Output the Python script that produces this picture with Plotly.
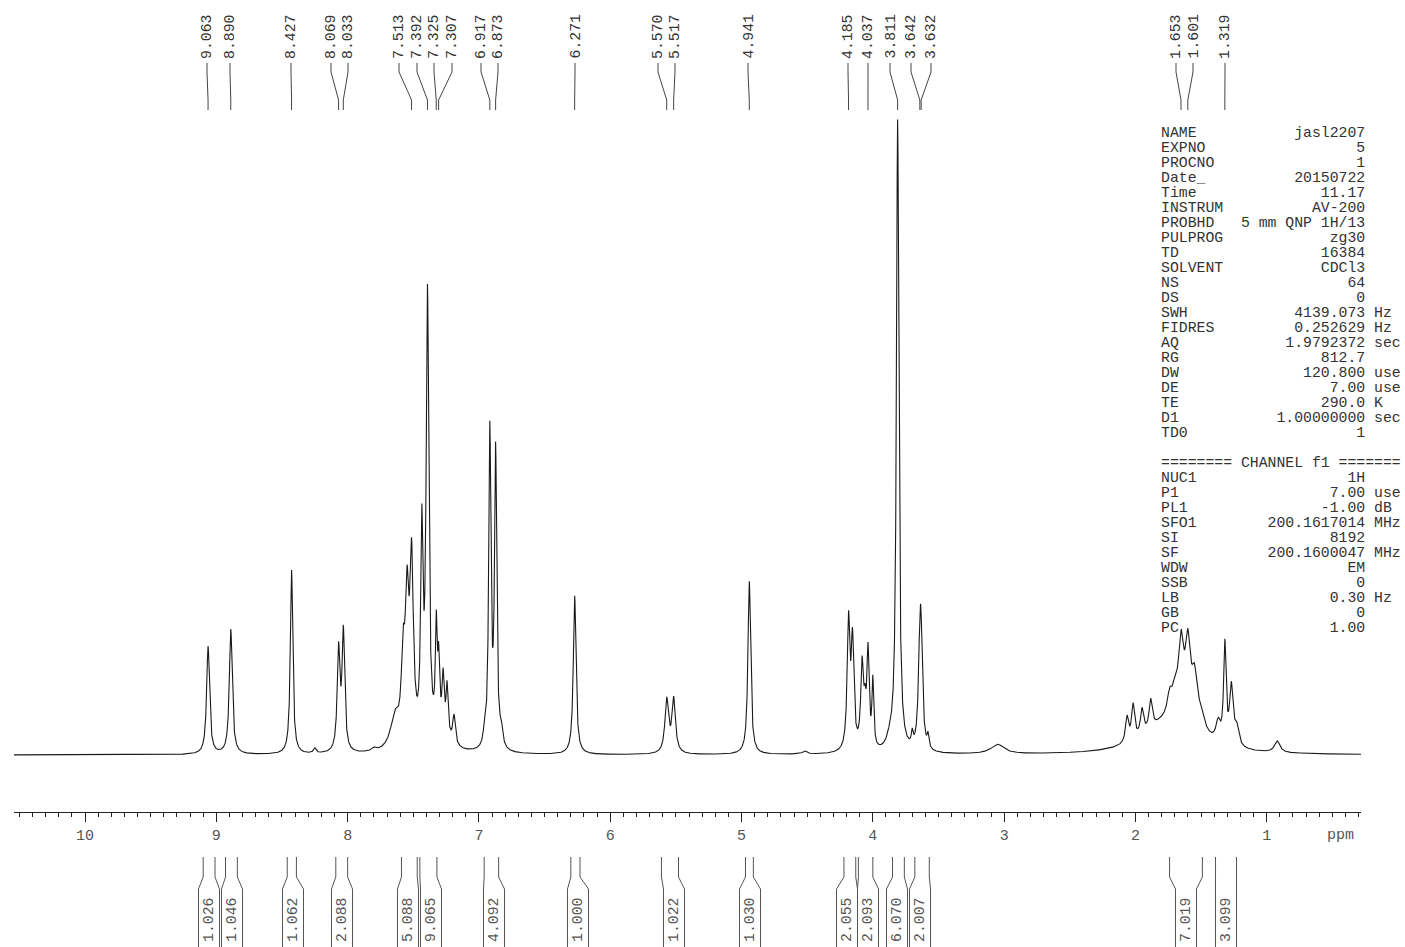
import numpy as np
import plotly.graph_objects as go

# ---------------- data ----------------
# Lorentzian peak list: position (ppm), height (intensity units), half width (ppm)
peak_ppm = [9.063, 8.890, 8.427, 8.25, 8.069, 8.033, 7.80,
            7.64, 7.578, 7.548, 7.513,
            7.435, 7.392, 7.325, 7.307, 7.273, 7.243, 7.19, 7.28,
            6.96, 6.917, 6.873, 6.83,
            6.271, 5.570, 5.517, 4.941, 4.52,
            4.185, 4.155, 4.082, 4.06, 4.037, 4.000, 3.87,
            3.811, 3.70, 3.642, 3.632, 3.58, 3.05,
            2.064, 2.018, 1.950, 1.884, 1.74, 1.70, 1.653, 1.601, 1.55, 1.50,
            1.37, 1.319, 1.27, 1.23, 1.80, 1.62, 0.92]
peak_height = [17.0, 19.7, 29.0, 0.8, 15.8, 18.7, 0.5,
               5.0, 12.0, 21.0, 28.0,
               32.0, 70.5, 16.0, 10.0, 8.0, 7.5, 4.5, 3.0,
               1.5, 50.0, 46.5, 2.5,
               25.0, 8.4, 8.5, 27.3, 0.5,
               20.0, 16.6, 13.0, 5.0, 15.0, 10.5, 1.5,
               99.5, 2.0, 13.3, 13.3, 2.0, 1.5,
               4.0, 5.5, 4.0, 4.5, 3.0, 3.0, 10.0, 10.0, 6.5, 2.0,
               3.0, 15.5, 9.0, 3.0, 3.5, 5.0, 1.8]
peak_hwhm = [0.013, 0.013, 0.011, 0.012, 0.012, 0.012, 0.02,
             0.04, 0.015, 0.016, 0.016,
             0.010, 0.012, 0.008, 0.008, 0.009, 0.009, 0.012, 0.06,
             0.01, 0.010, 0.010, 0.012,
             0.012, 0.016, 0.016, 0.012, 0.02,
             0.012, 0.012, 0.012, 0.010, 0.010, 0.008, 0.03,
             0.011, 0.008, 0.013, 0.013, 0.008, 0.06,
             0.014, 0.014, 0.014, 0.014, 0.02, 0.025, 0.022, 0.022, 0.025, 0.03,
             0.02, 0.011, 0.015, 0.02, 0.2, 0.12, 0.025]

# picked peak labels (ppm)
label_values = [9.063, 8.890, 8.427, 8.069, 8.033, 7.513, 7.392, 7.325, 7.307,
                6.917, 6.873, 6.271, 5.570, 5.517, 4.941, 4.185, 4.037,
                3.811, 3.642, 3.632, 1.653, 1.601, 1.319]

# integrals: region start / end (ppm) and values
integral_start = [9.10, 8.93, 8.46, 8.09, 7.59, 7.45, 6.96, 6.30, 5.61, 4.97,
                  4.22, 4.11, 3.85, 3.68, 1.74, 1.39]
integral_end = [9.01, 8.84, 8.39, 8.00, 7.47, 7.32, 6.85, 6.23, 5.48, 4.91,
                4.13, 4.00, 3.76, 3.57, 1.49, 1.23]
integral_values = ["1.026", "1.046", "1.062", "2.088", "5.088", "9.065", "4.092",
                   "1.000", "1.022", "1.030", "2.055", "2.093", "6.070", "2.007",
                   "7.019", "3.099"]

axis_ticks = [1, 2, 3, 4, 5, 6, 7, 8, 9, 10]

param_names = ["NAME", "EXPNO", "PROCNO", "Date_", "Time", "INSTRUM", "PROBHD",
               "PULPROG", "TD", "SOLVENT", "NS", "DS", "SWH", "FIDRES", "AQ",
               "RG", "DW", "DE", "TE", "D1", "TD0"]
param_values = ["jasl2207", "5", "1", "20150722", "11.17", "AV-200",
                "5 mm QNP 1H/13", "zg30", "16384", "CDCl3", "64", "0",
                "4139.073", "0.252629", "1.9792372", "812.7", "120.800",
                "7.00", "290.0", "1.00000000", "1"]
param_units = ["", "", "", "", "", "", "", "", "", "", "", "", "Hz", "Hz", "sec",
               "", "use", "use", "K", "sec", ""]
chan_names = ["NUC1", "P1", "PL1", "SFO1", "SI", "SF", "WDW", "SSB", "LB", "GB", "PC"]
chan_values = ["1H", "7.00", "-1.00", "200.1617014", "8192", "200.1600047",
               "EM", "0", "0.30", "0", "1.00"]
chan_units = ["", "use", "dB", "MHz", "", "MHz", "", "", "Hz", "", ""]

# ---------------- layout helpers ----------------
W, H = 1405, 947
ML, MR, MT, MB = 14, 44, 0, 135
PLOT_H = H - MT - MB
X_RANGE = [10.541, 0.282]
Y_RANGE = [-8.976, 118.9]
FONT = "Liberation Mono, Courier New, monospace"
TXT = "#333333"


def py(pix):
    """pixel row -> paper y"""
    return (H - MB - pix) / PLOT_H


def px2ppm(pix):
    return X_RANGE[0] - (pix - ML) * (X_RANGE[0] - X_RANGE[1]) / (W - ML - MR)


# label x positions (spread like the reference), in pixel columns -> ppm
label_cols = [207, 230, 291, 331, 348, 399, 417, 434, 452, 481, 498, 575, 658, 675,
              748, 848, 868, 890, 911, 931, 1176, 1193, 1225]
box_cols = [209, 232, 293, 342, 408, 431, 494, 578, 674, 750, 847, 868, 897, 920,
            1186, 1226]
BOX_HALF = 10.5 * (X_RANGE[0] - X_RANGE[1]) / (W - ML - MR)

# ---------------- spectrum ----------------
ppm = np.linspace(X_RANGE[0], X_RANGE[1], 14000)
inten = np.zeros_like(ppm)
for p0, h0, w0 in zip(peak_ppm, peak_height, peak_hwhm):
    inten += h0 / (1.0 + ((ppm - p0) / w0) ** 2)

fig = go.Figure()
fig.add_trace(go.Scatter(x=ppm, y=inten, mode="lines",
                         line=dict(color="#1a1a1a", width=1.1),
                         hoverinfo="skip", showlegend=False))

shapes = []
annotations = []

# peak labels on top
for val, col in zip(label_values, label_cols):
    lx = px2ppm(col)
    annotations.append(dict(x=lx, xref="x", y=py(61), yref="paper",
                            text=f"{val:.3f}", textangle=-90, showarrow=False,
                            xanchor="center", yanchor="bottom",
                            font=dict(family=FONT, size=14.8, color=TXT)))
    path = (f"M {lx},{py(63)} L {lx},{py(72)} L {val},{py(100)} "
            f"L {val},{py(110)}")
    shapes.append(dict(type="path", path=path, xref="x", yref="paper",
                       line=dict(color="#444444", width=1)))

# integrals below the axis
for s, e, v, col in zip(integral_start, integral_end, integral_values, box_cols):
    c = px2ppm(col)
    bl, br = c + BOX_HALF, c - BOX_HALF
    for edge, bedge in ((s, bl), (e, br)):
        path = (f"M {edge},{py(857)} L {edge},{py(877)} L {bedge},{py(889)} "
                f"L {bedge},{py(960)}")
        shapes.append(dict(type="path", path=path, xref="x", yref="paper",
                           line=dict(color="#555555", width=1)))
    annotations.append(dict(x=c, xref="x", y=py(920), yref="paper", text=v,
                            textangle=-90, showarrow=False, xanchor="center",
                            yanchor="middle",
                            font=dict(family=FONT, size=14.8, color="#555555")))

# parameter block
lines = []
for n, v, u in zip(param_names, param_values, param_units):
    lines.append(f"{n:<9}{v:>14} {u}".rstrip())
lines.append("")
lines.append("======== CHANNEL f1 =======")
for n, v, u in zip(chan_names, chan_values, chan_units):
    lines.append(f"{n:<9}{v:>14} {u}".rstrip())
xp = (1159 - ML) / (W - ML - MR)
for i, t in enumerate(lines):
    if not t:
        continue
    annotations.append(dict(x=xp, xref="paper", y=py(133 + 15 * i), yref="paper",
                            text=t.replace(" ", "\u00a0"), showarrow=False,
                            xanchor="left", yanchor="middle", align="left",
                            font=dict(family=FONT, size=14.8, color=TXT)))

annotations.append(dict(x=(1340 - ML) / (W - ML - MR), xref="paper", y=py(835),
                        yref="paper", text="ppm", showarrow=False,
                        xanchor="center", yanchor="middle",
                        font=dict(family=FONT, size=15, color="#555555")))

fig.update_layout(
    width=W, height=H, autosize=False,
    margin=dict(l=ML, r=MR, t=MT, b=MB, pad=0),
    paper_bgcolor="white", plot_bgcolor="white",
    showlegend=False,
    xaxis=dict(range=X_RANGE, tickvals=axis_ticks, ticktext=[str(t) for t in axis_ticks],
               ticks="outside", ticklen=9, tickwidth=1, tickcolor="#222",
               showline=True, linecolor="#222", linewidth=1, showgrid=False,
               zeroline=False, mirror=False,
               tickfont=dict(family=FONT, size=15, color="#555555"),
               minor=dict(dtick=0.1, tick0=0, ticks="outside", ticklen=4,
                          tickcolor="#222", showgrid=False)),
    yaxis=dict(range=Y_RANGE, visible=False, showgrid=False, zeroline=False),
    shapes=shapes, annotations=annotations,
)

fig.write_html("out.html", config={"displayModeBar": False})
